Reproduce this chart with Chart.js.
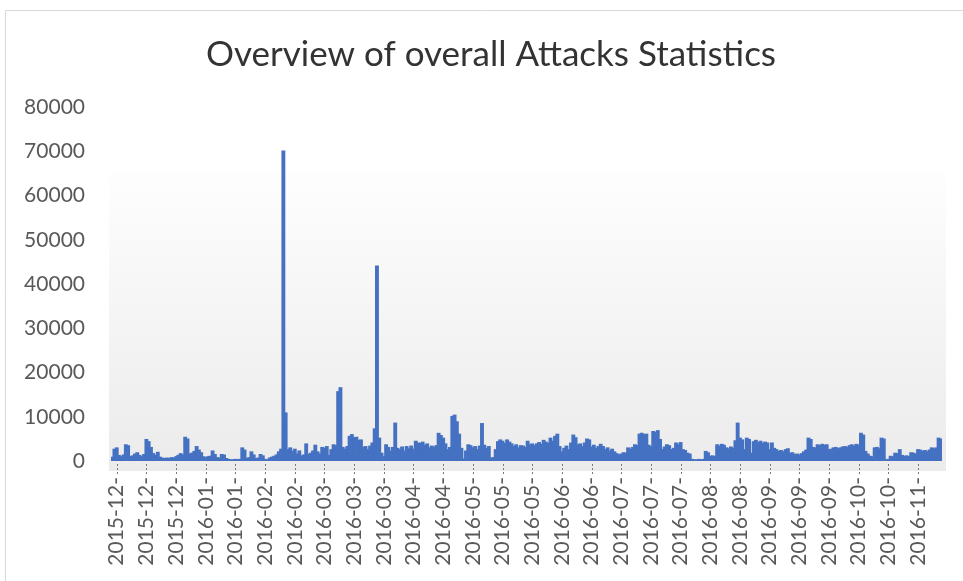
<!DOCTYPE html>
<html>
<head>
<meta charset="utf-8">
<title>Overview of overall Attacks Statistics</title>
<script src="https://cdn.jsdelivr.net/npm/chart.js@4.4.1/dist/chart.umd.min.js"></script>
<style>
  html, body { margin: 0; padding: 0; background: #fff; }
  canvas { display: block; }
</style>
</head>
<body>
<canvas id="chart" width="963" height="581"></canvas>
<script>
// Daily attack counts, 2015-12 to 2016-11 (one value per day)
const attacks = [
  800, 2600, 2900, 1200, 900, 1300, 3600, 3400, 900, 1100,
  1500, 1800, 1200, 900, 1400, 4800, 4300, 3000, 1600, 1200,
  1900, 800, 600, 500, 600, 500, 700, 600, 900, 1200,
  1600, 1300, 5300, 4900, 1500, 1700, 2100, 3200, 2400, 1800,
  900, 700, 900, 1000, 2200, 1400, 700, 600, 1400, 1300,
  500, 300, 200, 200, 300, 200, 300, 2900, 2400, 500,
  700, 2000, 1300, 500, 600, 1400, 1100, 300, 200, 600,
  800, 1000, 1300, 2000, 2600, 70000, 10800, 2500, 2900, 2100,
  2600, 1500, 2200, 1100, 1300, 3800, 1400, 1700, 2200,
  3500, 2000, 1500, 3000, 2800, 3200, 1200, 2500, 3600, 3400, 15600, 16500,
  3000, 2600, 3200, 5500, 5900, 5200, 5300, 4600, 4700, 3000,
  3200, 2500, 3300, 4000, 7200, 44000, 5100, 1700, 900, 3600,
  3000, 2200, 3000, 8500, 2800, 2500, 3100, 2200, 3200, 2700,
  3300, 2600, 4400, 4000, 3900, 4200, 3500, 3800, 2900, 3300,
  3000, 3400, 6200, 5700, 5100, 3800, 2500, 3000, 10000, 10300,
  8800, 6000, 2800, 400, 2200, 3600, 3400, 2900, 3200, 2500,
  3300, 8400, 3500, 2800, 3200, 600, 700, 2500, 4300, 4700,
  4400, 3900, 4700, 4200, 3800, 3200, 3600, 2900, 3400, 3300,
  3000, 4400, 3600, 3800, 3400, 3800, 4100, 3700, 4600, 4200,
  3900, 5100, 4400, 5500, 6000, 3200, 2000, 2800, 3300, 2500,
  4000, 5800, 5200, 3600, 3800, 3200, 4000, 4900, 4700, 3100,
  3500, 2800, 3200, 3700, 3200, 2500, 2900, 2200, 2600, 2000,
  1600, 1300, 1500, 1800, 1700, 2900, 2600, 3000, 3600, 3400,
  6000, 6200, 5900, 6000, 3500, 3200, 6600, 6400, 6800, 4800,
  2500, 3100, 3600, 3400, 2500, 2800, 4000, 3600, 4100, 2500,
  2300, 1700, 1500, 300, 200, 200, 300, 200, 300, 2100,
  1800, 1000, 1100, 900, 3600, 3300, 3700, 3500, 2900, 2700,
  3100, 2800, 4500, 8500, 5100, 4700, 2500, 5100, 4800, 1700,
  4300, 4600, 4100, 4400, 3900, 4200, 4000, 2500, 4000, 2800,
  2500, 2100, 2300, 2000, 2500, 2700, 1700, 1800, 1400, 1500,
  1300, 1600, 2000, 2400, 5100, 4800, 3000, 2900, 3600, 3400,
  3700, 3500, 3600, 2500, 2600, 2900, 3000, 2700, 2900, 3100,
  3200, 3000, 3400, 3600, 3300, 3700, 3500, 6200, 5800, 2100,
  1500, 1000, 900, 2900, 3000, 2700, 5100, 4900, 200, 300,
  1000, 900, 1700, 1600, 2500, 1200, 1000, 1100, 900, 1800,
  1700, 1500, 2500, 2400, 2100, 2300, 2000, 2400, 2900, 2700,
  2900, 5100, 4900
];

// Category-axis labels, one every LABEL_STEP days starting at day LABEL_START
const tickLabels = [
  '2015-12-', '2015-12-', '2015-12-', '2016-01-', '2016-01-', '2016-02-', '2016-02-',
  '2016-03-', '2016-03-', '2016-03-', '2016-04-', '2016-04-', '2016-05-', '2016-05-',
  '2016-05-', '2016-06-', '2016-06-', '2016-07-', '2016-07-', '2016-07-', '2016-08-',
  '2016-08-', '2016-09-', '2016-09-', '2016-09-', '2016-10-', '2016-10-', '2016-11-'
];
const LABEL_START = 2;
const LABEL_STEP = 13;

const yTicks = { min: 0, max: 80000, step: 10000 };

const days = attacks.map((_, i) => i);

function labelIndex(i) {
  const k = i - LABEL_START;
  if (k < 0 || k % LABEL_STEP !== 0) return -1;
  const j = k / LABEL_STEP;
  return j < tickLabels.length ? j : -1;
}

// White sheet with a thin frame, a soft grey gradient behind the plot,
// dotted tick marks under each labelled day, and a title centred a little right.
const backdrop = {
  id: 'backdrop',
  afterLayout(chart) {
    if (chart.titleBlock) chart.titleBlock.left += 40;
  },
  beforeDraw(chart) {
    const { ctx, chartArea: a, width, height } = chart;
    ctx.save();
    ctx.fillStyle = '#ffffff';
    ctx.fillRect(0, 0, width, height);
    ctx.strokeStyle = '#d9d9d9';
    ctx.lineWidth = 1;
    ctx.beginPath();
    ctx.moveTo(5.5, height);
    ctx.lineTo(5.5, 10.5);
    ctx.lineTo(width, 10.5);
    ctx.stroke();
    const top = a.top + 63;
    const bottom = a.bottom + 10;
    const g = ctx.createLinearGradient(0, top, 0, bottom);
    g.addColorStop(0, '#fefefe');
    g.addColorStop(1, '#ebebeb');
    ctx.fillStyle = g;
    ctx.fillRect(a.left - 2, top, a.right - a.left + 6, bottom - top);
    ctx.restore();
  },
  afterDraw(chart) {
    const { ctx, chartArea: a } = chart;
    const xs = chart.scales.x;
    ctx.save();
    ctx.strokeStyle = '#7a7a7a';
    ctx.lineWidth = 1;
    ctx.setLineDash([2, 2]);
    tickLabels.forEach((_, j) => {
      const x = Math.round(xs.getPixelForValue(LABEL_START + j * LABEL_STEP)) + 0.5;
      ctx.beginPath();
      ctx.moveTo(x, a.bottom + 3);
      ctx.lineTo(x, a.bottom + 13);
      ctx.stroke();
    });
    ctx.restore();
  }
};

new Chart(document.getElementById('chart'), {
  type: 'bar',
  data: {
    labels: days,
    datasets: [{
      data: attacks,
      backgroundColor: '#4571c2',
      borderWidth: 0,
      inflateAmount: 0.8,
      barPercentage: 1,
      categoryPercentage: 1
    }]
  },
  options: {
    responsive: false,
    animation: false,
    layout: { padding: { left: 0, right: 21, top: 0, bottom: 0 } },
    plugins: {
      legend: { display: false },
      tooltip: { enabled: false },
      title: {
        display: true,
        text: 'Overview of overall Attacks Statistics',
        color: '#333333',
        font: { family: 'Lato', size: 35, weight: 'normal' },
        padding: { top: 34, bottom: 31 }
      }
    },
    scales: {
      x: {
        ticks: {
          autoSkip: false,
          minRotation: 90,
          maxRotation: 90,
          padding: 16,
          color: '#595959',
          font: { family: 'Lato', size: 21 },
          callback: (v, i) => {
            const j = labelIndex(i);
            return j < 0 ? null : tickLabels[j];
          }
        },
        grid: { display: false, drawTicks: false },
        border: { display: false },
        afterFit: (s) => { s.height = 120; }
      },
      y: {
        min: yTicks.min,
        max: yTicks.max,
        ticks: {
          stepSize: yTicks.step,
          padding: 26,
          color: '#595959',
          font: { family: 'Lato', size: 21 },
          callback: (v) => String(v)
        },
        grid: { display: false, drawTicks: false },
        border: { display: false },
        afterFit: (s) => { s.width = 111; }
      }
    }
  },
  plugins: [backdrop]
});
</script>
</body>
</html>
